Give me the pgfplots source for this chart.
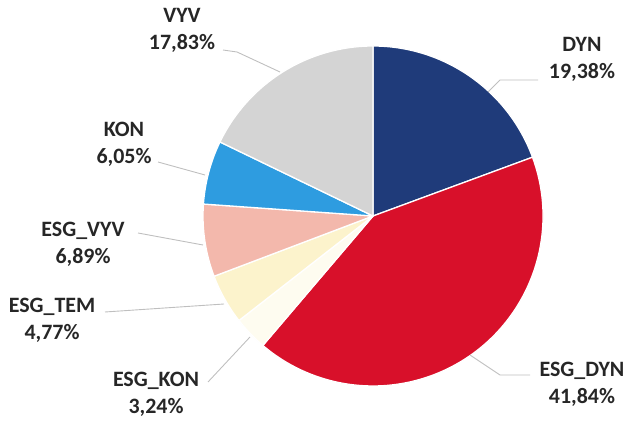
\documentclass[border=0pt]{standalone}
\usepackage{pgfplots}
\pgfplotsset{compat=1.18}
\usepackage{pgfplotstable}
\usepackage{fontspec}
\setmainfont{Carlito}
\definecolor{cDYN}{HTML}{1F3B7A}
\definecolor{cESGDYN}{HTML}{D8102A}
\definecolor{cESGKON}{HTML}{FEFCF0}
\definecolor{cESGTEM}{HTML}{FCF3CC}
\definecolor{cESGVYV}{HTML}{F3B8AC}
\definecolor{cKON}{HTML}{2E9CE0}
\definecolor{cVYV}{HTML}{D4D4D4}
\definecolor{lead}{HTML}{BFBFBF}
\definecolor{txt}{HTML}{262626}
% shares in percent, clockwise from 12 o'clock
\pgfplotstableread{
value
19.38
41.84
3.24
4.77
6.89
6.05
17.83
}\piedata
\newcommand\slice[2]{%
  \fill[#2, draw=white, line width=1.3pt, line join=round]
    (axis cs:373,208) --
    (axis cs:{373+170*cos(\csname ps#1\endcsname)},{208+170*sin(\csname ps#1\endcsname)})
    arc[start angle=\csname ps#1\endcsname, end angle=\csname pe#1\endcsname, radius=170bp] -- cycle;}
\begin{document}
\begin{tikzpicture}
\xdef\cum{0}
\foreach \i in {0,...,6}{%
  \pgfplotstablegetelem{\i}{value}\of\piedata
  \pgfmathsetmacro\s{90-3.6*\cum}%
  \pgfmathsetmacro\e{90-3.6*(\cum+\pgfplotsretval)}%
  \expandafter\xdef\csname ps\i\endcsname{\s}%
  \expandafter\xdef\csname pe\i\endcsname{\e}%
  \pgfmathsetmacro\c{\cum+\pgfplotsretval}%
  \xdef\cum{\c}%
}
\begin{axis}[
  width=632bp, height=424bp, scale only axis,
  xmin=0, xmax=632, ymin=0, ymax=424,
  hide axis, clip=false,
]
\path (axis cs:0,0) rectangle (axis cs:632,424);
\slice{0}{cDYN}
\slice{1}{cESGDYN}
\slice{2}{cESGKON}
\slice{3}{cESGTEM}
\slice{4}{cESGVYV}
\slice{5}{cKON}
\slice{6}{cVYV}
% leader lines
\addplot[lead, line width=0.9pt, no markers] coordinates {(223,374) (237,372) (280,352)};
\addplot[lead, line width=0.9pt, no markers] coordinates {(538,344) (500,344) (488,332)};
\addplot[lead, line width=0.9pt, no markers] coordinates {(470,69) (500,49) (530,49)};
\addplot[lead, line width=0.9pt, no markers] coordinates {(208,42) (250,87)};
\addplot[lead, line width=0.9pt, no markers] coordinates {(105,112) (224,120)};
\addplot[lead, line width=0.9pt, no markers] coordinates {(138,191) (203,179)};
\addplot[lead, line width=0.9pt, no markers] coordinates {(158,262) (205,249)};
% labels
\tikzset{lab/.style={align=center, text=txt, font=\fontsize{22}{27}\selectfont\bfseries, inner sep=0pt}}
\node[lab] at (axis cs:182,394) {VYV\\17,83\%};
\node[lab] at (axis cs:582,365) {DYN\\19,38\%};
\node[lab] at (axis cs:582,40) {ESG\_DYN\\41,84\%};
\node[lab] at (axis cs:156,30) {ESG\_KON\\3,24\%};
\node[lab] at (axis cs:52,104) {ESG\_TEM\\4,77\%};
\node[lab] at (axis cs:83,180) {ESG\_VYV\\6,89\%};
\node[lab] at (axis cs:124,280) {KON\\6,05\%};
\end{axis}
\end{tikzpicture}
\end{document}
